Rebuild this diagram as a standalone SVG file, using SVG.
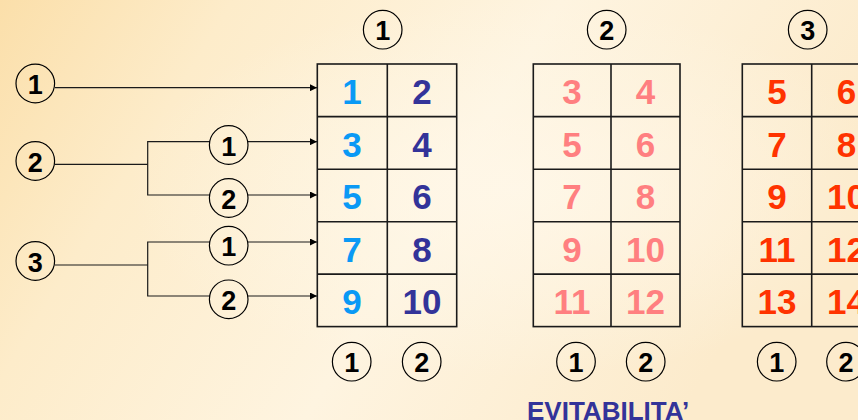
<svg xmlns="http://www.w3.org/2000/svg" width="858" height="420" viewBox="0 0 858 420">
<defs>
<linearGradient id="bg" x1="0" y1="0" x2="1" y2="0.3">
<stop offset="0" stop-color="#fbdfaa"/>
<stop offset="0.25" stop-color="#fdecca"/>
<stop offset="0.6" stop-color="#fef4e0"/>
<stop offset="1" stop-color="#fcebcc"/>
</linearGradient>
<radialGradient id="glow" cx="0.6" cy="0.45" r="0.45">
<stop offset="0" stop-color="#fff8ea" stop-opacity="0.8"/>
<stop offset="1" stop-color="#fff8ea" stop-opacity="0"/>
</radialGradient>
<marker id="ah" viewBox="0 0 10 10" refX="10" refY="5" markerWidth="9" markerHeight="7" markerUnits="userSpaceOnUse" orient="auto">
<path d="M0,0 L10,5 L0,10 z" fill="#000"/>
</marker>
</defs>
<style>
.c{fill:none;stroke:#000;stroke-width:1.2}
.cl{font-family:"Liberation Sans",Arial,sans-serif;font-weight:bold;font-size:27px;fill:#000;text-anchor:middle}
.g{fill:none;stroke:#1a1a1a;stroke-width:1.6}
.n{font-family:"Liberation Sans",Arial,sans-serif;font-weight:bold;font-size:35px;text-anchor:middle}
.ln{fill:none;stroke:#1a1a1a;stroke-width:1.2}
.b1{fill:#0a99f5}.b2{fill:#333399}.p{fill:#ff7f80}.r{fill:#ff3300}
</style>
<rect width="858" height="420" fill="url(#bg)"/>
<rect width="858" height="420" fill="url(#glow)"/>

<g id="connectors">
<line class="ln" x1="55" y1="87.7" x2="317" y2="87.7" marker-end="url(#ah)"/>
<polyline class="ln" points="55,164.3 147.7,164.3"/>
<polyline class="ln" points="210,141.7 147.7,141.7 147.7,195 210,195"/>
<line class="ln" x1="248" y1="141.7" x2="317" y2="141.7" marker-end="url(#ah)"/>
<line class="ln" x1="248" y1="195" x2="317" y2="195" marker-end="url(#ah)"/>
<polyline class="ln" points="55,265 147.7,265"/>
<polyline class="ln" points="210,242 147.7,242 147.7,296 210,296"/>
<line class="ln" x1="248" y1="242" x2="317" y2="242" marker-end="url(#ah)"/>
<line class="ln" x1="248" y1="296" x2="317" y2="296" marker-end="url(#ah)"/>
</g>

<g id="left1"><circle class="c" cx="35.3" cy="83.5" r="19.3"/><text class="cl" x="35.3" y="94">1</text></g>
<g id="left2"><circle class="c" cx="35.3" cy="161" r="19.3"/><text class="cl" x="35.3" y="171.5">2</text></g>
<g id="left3"><circle class="c" cx="35.3" cy="261" r="19.3"/><text class="cl" x="35.3" y="271.5">3</text></g>
<g id="branch2a"><circle class="c" cx="228.7" cy="145" r="19.3"/><text class="cl" x="228.7" y="155.5">1</text></g>
<g id="branch2b"><circle class="c" cx="228.7" cy="198" r="19.3"/><text class="cl" x="228.7" y="208.5">2</text></g>
<g id="branch3a"><circle class="c" cx="228.7" cy="245.7" r="19.3"/><text class="cl" x="228.7" y="256.2">1</text></g>
<g id="branch3b"><circle class="c" cx="228.7" cy="299.3" r="19.3"/><text class="cl" x="228.7" y="309.8">2</text></g>

<g id="top1"><circle class="c" cx="382.7" cy="29.7" r="19.3"/><text class="cl" x="382.7" y="40.2">1</text></g>
<g id="top2"><circle class="c" cx="606.7" cy="29.7" r="19.3"/><text class="cl" x="606.7" y="40.2">2</text></g>
<g id="top3"><circle class="c" cx="807.7" cy="29.7" r="19.3"/><text class="cl" x="807.7" y="40.2">3</text></g>

<g id="table1">
<rect class="g" x="317.3" y="64" width="139.4" height="262.6"/>
<line class="g" x1="387.3" y1="64" x2="387.3" y2="326.6"/>
<line class="g" x1="317.3" y1="116.6" x2="456.7" y2="116.6"/>
<line class="g" x1="317.3" y1="169.2" x2="456.7" y2="169.2"/>
<line class="g" x1="317.3" y1="221.7" x2="456.7" y2="221.7"/>
<line class="g" x1="317.3" y1="274.1" x2="456.7" y2="274.1"/>
<text class="n b1" x="352" y="104">1</text><text class="n b2" x="422" y="104">2</text>
<text class="n b1" x="352" y="156.5">3</text><text class="n b2" x="422" y="156.5">4</text>
<text class="n b1" x="352" y="209">5</text><text class="n b2" x="422" y="209">6</text>
<text class="n b1" x="352" y="261.5">7</text><text class="n b2" x="422" y="261.5">8</text>
<text class="n b1" x="352" y="314">9</text><text class="n b2" x="422" y="314">10</text>
</g>

<g id="table2">
<rect class="g" x="533.3" y="64" width="146.7" height="262.6"/>
<line class="g" x1="611" y1="64" x2="611" y2="326.6"/>
<line class="g" x1="533.3" y1="116.6" x2="680" y2="116.6"/>
<line class="g" x1="533.3" y1="169.2" x2="680" y2="169.2"/>
<line class="g" x1="533.3" y1="221.7" x2="680" y2="221.7"/>
<line class="g" x1="533.3" y1="274.1" x2="680" y2="274.1"/>
<text class="n p" x="572" y="104">3</text><text class="n p" x="645.5" y="104">4</text>
<text class="n p" x="572" y="156.5">5</text><text class="n p" x="645.5" y="156.5">6</text>
<text class="n p" x="572" y="209">7</text><text class="n p" x="645.5" y="209">8</text>
<text class="n p" x="572" y="261.5">9</text><text class="n p" x="645.5" y="261.5">10</text>
<text class="n p" x="572" y="314">11</text><text class="n p" x="645.5" y="314">12</text>
</g>

<g id="table3">
<rect class="g" x="742.3" y="64" width="139.4" height="262.6"/>
<line class="g" x1="811.7" y1="64" x2="811.7" y2="326.6"/>
<line class="g" x1="742.3" y1="116.6" x2="881.7" y2="116.6"/>
<line class="g" x1="742.3" y1="169.2" x2="881.7" y2="169.2"/>
<line class="g" x1="742.3" y1="221.7" x2="881.7" y2="221.7"/>
<line class="g" x1="742.3" y1="274.1" x2="881.7" y2="274.1"/>
<text class="n r" x="777" y="104">5</text><text class="n r" x="846.5" y="104">6</text>
<text class="n r" x="777" y="156.5">7</text><text class="n r" x="846.5" y="156.5">8</text>
<text class="n r" x="777" y="209">9</text><text class="n r" x="846.5" y="209">10</text>
<text class="n r" x="777" y="261.5">11</text><text class="n r" x="846.5" y="261.5">12</text>
<text class="n r" x="777" y="314">13</text><text class="n r" x="846.5" y="314">14</text>
</g>

<g id="bottom1a"><circle class="c" cx="351.7" cy="361.7" r="19.3"/><text class="cl" x="351.7" y="371.7">1</text></g>
<g id="bottom1b"><circle class="c" cx="421.7" cy="361.7" r="19.3"/><text class="cl" x="421.7" y="371.7">2</text></g>
<g id="bottom2a"><circle class="c" cx="576" cy="361.7" r="19.3"/><text class="cl" x="576" y="371.7">1</text></g>
<g id="bottom2b"><circle class="c" cx="645.7" cy="361.7" r="19.3"/><text class="cl" x="645.7" y="371.7">2</text></g>
<g id="bottom3a"><circle class="c" cx="776.7" cy="361.7" r="19.3"/><text class="cl" x="776.7" y="371.7">1</text></g>
<g id="bottom3b"><circle class="c" cx="846" cy="361.7" r="19.3"/><text class="cl" x="846" y="371.7">2</text></g>

<text id="label" x="527" y="420" font-family="'Liberation Sans',Arial,sans-serif" font-weight="bold" font-size="26" fill="#333399">EVITABILITA’</text>
</svg>
